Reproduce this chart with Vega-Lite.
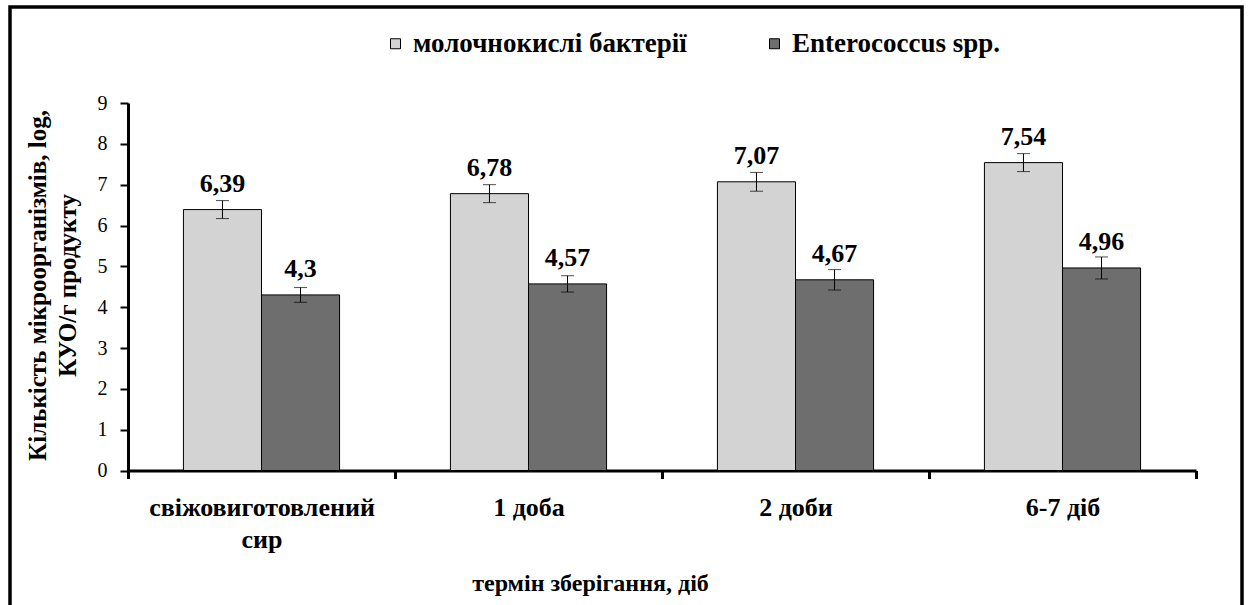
{
  "$schema": "https://vega.github.io/schema/vega-lite/v6.json",
  "autosize": {"type": "none"},
  "width": 1232,
  "height": 600,
  "padding": {"left": 10, "top": 7, "right": 7, "bottom": -2},
  "background": "white",
  "config": {
    "locale": {
      "number": {"decimal": ",", "thousands": " ", "grouping": [3], "currency": ["", " грн"]}
    },
    "font": "Liberation Serif",
    "view": {"stroke": "black", "strokeWidth": 3.5},
    "axis": {
      "grid": false,
      "domainColor": "black",
      "tickColor": "black",
      "labelColor": "black",
      "titleColor": "black",
      "labelFont": "Liberation Serif",
      "titleFont": "Liberation Serif"
    },
    "legend": {"labelFont": "Liberation Serif", "labelColor": "black"},
    "text": {"font": "Liberation Serif"}
  },
  "data": {
    "values": [
      {"term": "свіжовиготовлений сир", "group": "молочнокислі бактерії", "value": 6.39, "lo": 6.17, "hi": 6.61},
      {"term": "свіжовиготовлений сир", "group": "Enterococcus spp.", "value": 4.3, "lo": 4.12, "hi": 4.48},
      {"term": "1 доба", "group": "молочнокислі бактерії", "value": 6.78, "lo": 6.56, "hi": 7.0},
      {"term": "1 доба", "group": "Enterococcus spp.", "value": 4.57, "lo": 4.37, "hi": 4.77},
      {"term": "2 доби", "group": "молочнокислі бактерії", "value": 7.07, "lo": 6.84, "hi": 7.3},
      {"term": "2 доби", "group": "Enterococcus spp.", "value": 4.67, "lo": 4.42, "hi": 4.92},
      {"term": "6-7 діб", "group": "молочнокислі бактерії", "value": 7.54, "lo": 7.32, "hi": 7.76},
      {"term": "6-7 діб", "group": "Enterococcus spp.", "value": 4.96, "lo": 4.69, "hi": 5.23}
    ]
  },
  "encoding": {
    "x": {
      "field": "term",
      "type": "nominal",
      "sort": ["свіжовиготовлений сир", "1 доба", "2 доби", "6-7 діб"],
      "scale": {"range": [118, 1186], "paddingInner": 0, "paddingOuter": 0},
      "axis": {
        "orient": "bottom",
        "offset": -136.5,
        "tickBand": "extent",
        "tickSize": 8,
        "tickWidth": 3,
        "domainWidth": 3,
        "labelAngle": 0,
        "labelFontSize": 26,
        "labelFontWeight": "bold",
        "labelBaseline": "alphabetic",
        "labelPadding": 37,
        "labelLineHeight": 32,
        "labelLimit": 0,
        "labelExpr": "datum.value == 'свіжовиготовлений сир' ? ['свіжовиготовлений', 'сир'] : datum.value",
        "title": "термін зберігання, діб",
        "titleFontSize": 24,
        "titleFontWeight": "bold",
        "titleX": 580,
        "titleY": 120,
        "titleAlign": "center",
        "titleBaseline": "alphabetic"
      }
    },
    "xOffset": {
      "field": "group",
      "type": "nominal",
      "sort": ["молочнокислі бактерії", "Enterococcus spp."],
      "scale": {"paddingInner": 0, "paddingOuter": 0.71}
    }
  },
  "layer": [
    {
      "mark": {"type": "bar", "stroke": "black", "strokeWidth": 1},
      "encoding": {
        "y": {
          "field": "value",
          "type": "quantitative",
          "scale": {"domain": [0, 9], "range": [463.5, 96], "nice": false, "zero": true},
          "axis": {
            "orient": "left",
            "offset": -118,
            "values": [0, 1, 2, 3, 4, 5, 6, 7, 8, 9],
            "format": "d",
            "tickSize": 8,
            "tickWidth": 2,
            "domainWidth": 3,
            "labelFontSize": 20,
            "labelFontWeight": "normal",
            "labelPadding": 13,
            "title": ["Кількість мікроорганізмів, log,", "КУО/г продукту"],
            "titleFontSize": 25,
            "titleFontWeight": "bold",
            "titleAngle": -90,
            "titleX": -83,
            "titleY": 278,
            "titleAlign": "center",
            "titleBaseline": "alphabetic",
            "titleLineHeight": 30
          }
        },
        "color": {
          "field": "group",
          "type": "nominal",
          "scale": {
            "domain": ["молочнокислі бактерії", "Enterococcus spp."],
            "range": ["#d3d3d3", "#6e6e6e"]
          },
          "legend": {
            "title": null,
            "orient": "none",
            "direction": "horizontal",
            "legendX": 372,
            "legendY": 23,
            "symbolType": "square",
            "symbolSize": 100,
            "symbolStrokeColor": "black",
            "symbolStrokeWidth": 1,
            "symbolOpacity": 1,
            "labelFontSize": 27,
            "labelFontWeight": "bold",
            "labelOffset": 4,
            "columnPadding": 74,
            "labelLimit": 400
          }
        }
      }
    },
    {
      "mark": {"type": "rule", "color": "black", "strokeWidth": 1},
      "encoding": {
        "y": {"field": "lo", "type": "quantitative"},
        "y2": {"field": "hi"}
      }
    },
    {
      "mark": {"type": "tick", "color": "black", "size": 13, "thickness": 1, "orient": "horizontal"},
      "encoding": {"y": {"field": "lo", "type": "quantitative"}}
    },
    {
      "mark": {"type": "tick", "color": "black", "size": 13, "thickness": 1, "orient": "horizontal"},
      "encoding": {"y": {"field": "hi", "type": "quantitative"}}
    },
    {
      "mark": {"type": "text", "font": "Liberation Serif", "fontSize": 26, "fontWeight": "bold", "baseline": "alphabetic", "dy": -18, "color": "black"},
      "encoding": {
        "y": {"field": "value", "type": "quantitative"},
        "text": {"field": "value", "type": "quantitative", "format": "~g"}
      }
    }
  ]
}
